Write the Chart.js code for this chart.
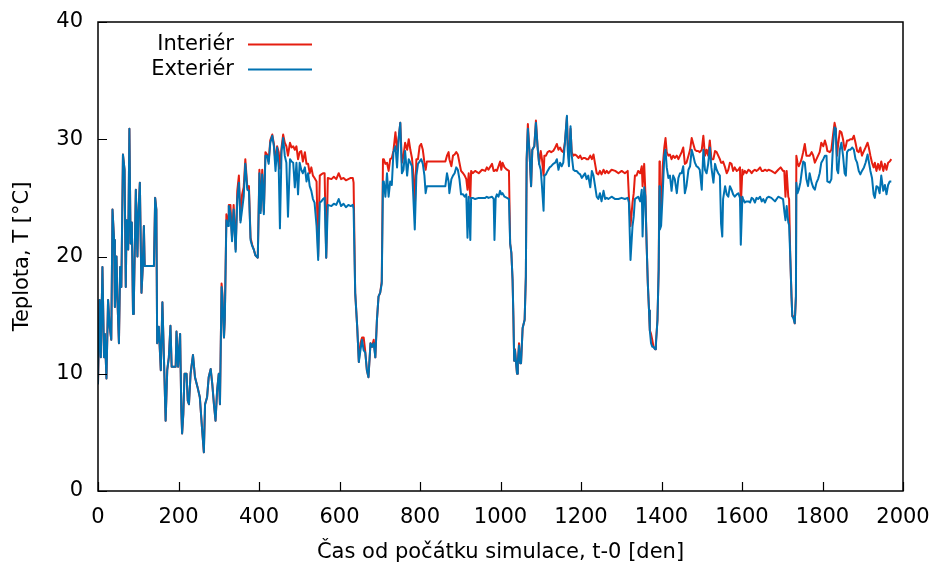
<!DOCTYPE html>
<html>
<head>
<meta charset="utf-8">
<title>Teplota</title>
<script src="https://cdn.jsdelivr.net/npm/chart.js@4/dist/chart.umd.min.js"></script>
<style>
  html, body { margin: 0; padding: 0; background: #fff; }
  #chart { display: block; }
</style>
</head>
<body>
<canvas id="chart" width="933" height="565"></canvas>
<script>
// cas od pocatku simulace [den]
const days = [
  0, 4, 7, 11, 15, 17, 21, 25, 29, 33, 36, 40, 42, 46, 48, 52, 55, 58, 62, 66,
  69, 71, 75, 78, 81, 84, 87, 89, 94, 98, 100, 104, 108, 111, 114, 116, 139, 142, 145, 147,
  151, 156, 160, 164, 168, 172, 176, 180, 183, 193, 195, 199, 204, 207, 209, 212, 215, 220, 223, 226,
  230, 236, 241, 247, 253, 259, 263, 266, 271, 275, 280, 284, 288, 292, 296, 300, 303, 307, 309, 313,
  315, 319, 323, 325, 329, 333, 337, 342, 346, 350, 354, 358, 362, 366, 371, 375, 379, 383, 387, 391,
  397, 401, 404, 408, 412, 416, 420, 424, 428, 433, 437, 441, 445, 449, 452, 456, 460, 464, 468, 472,
  477, 481, 485, 489, 493, 497, 501, 505, 509, 514, 518, 522, 526, 530, 534, 538, 543, 547, 551, 555,
  559, 563, 567, 571, 580, 586, 592, 598, 604, 610, 616, 622, 628, 633, 635, 639, 644, 648, 652, 656,
  660, 664, 668, 672, 677, 681, 685, 689, 693, 697, 701, 705, 708, 710, 714, 718, 722, 726, 730, 734,
  739, 743, 747, 751, 755, 759, 763, 768, 772, 776, 780, 784, 787, 791, 795, 799, 803, 807, 811, 814,
  817, 863, 867, 871, 873, 878, 882, 886, 890, 894, 898, 902, 907, 911, 915, 918, 921, 925, 927, 931,
  937, 946, 954, 962, 966, 970, 979, 983, 985, 988, 991, 995, 999, 1002, 1005, 1010, 1016, 1021, 1024, 1027,
  1030, 1032, 1034, 1036, 1041, 1043, 1046, 1049, 1051, 1055, 1060, 1063, 1065, 1068, 1072, 1076, 1079, 1084, 1088, 1092,
  1096, 1100, 1103, 1107, 1109, 1113, 1117, 1122, 1126, 1131, 1136, 1140, 1144, 1148, 1152, 1156, 1160, 1165, 1167, 1170,
  1174, 1177, 1181, 1185, 1189, 1194, 1198, 1202, 1206, 1210, 1214, 1218, 1223, 1227, 1231, 1235, 1239, 1243, 1247, 1251,
  1256, 1260, 1264, 1268, 1276, 1285, 1293, 1301, 1309, 1316, 1319, 1323, 1328, 1331, 1334, 1338, 1342, 1347, 1351, 1353,
  1357, 1360, 1363, 1366, 1369, 1371, 1374, 1377, 1380, 1384, 1386, 1390, 1393, 1395, 1396, 1399, 1403, 1407, 1410, 1413,
  1417, 1421, 1425, 1429, 1433, 1438, 1442, 1446, 1450, 1454, 1458, 1462, 1467, 1471, 1475, 1479, 1483, 1487, 1491, 1495,
  1500, 1504, 1508, 1512, 1516, 1520, 1524, 1529, 1533, 1537, 1541, 1545, 1548, 1551, 1553, 1558, 1562, 1566, 1570, 1574,
  1578, 1582, 1587, 1591, 1595, 1597, 1601, 1603, 1607, 1611, 1616, 1620, 1624, 1628, 1632, 1636, 1640, 1645, 1649, 1653,
  1657, 1662, 1666, 1673, 1682, 1690, 1696, 1702, 1705, 1708, 1711, 1715, 1717, 1720, 1723, 1725, 1728, 1731, 1734, 1735,
  1738, 1741, 1745, 1748, 1752, 1756, 1760, 1764, 1768, 1773, 1777, 1781, 1785, 1789, 1793, 1797, 1802, 1806, 1810, 1812,
  1818, 1822, 1826, 1830, 1833, 1836, 1839, 1843, 1847, 1851, 1855, 1858, 1861, 1865, 1869, 1874, 1878, 1882, 1886, 1890,
  1894, 1898, 1903, 1907, 1912, 1915, 1919, 1923, 1927, 1930, 1934, 1938, 1942, 1946, 1951, 1955, 1959, 1963, 1967, 1971
];

// teplota v interieru [°C]
const interior = [
  9.1, 16.3, 11.4, 19.1, 11.4, 13.4, 9.6, 16.3, 14.0, 12.9, 24.0, 21.4, 15.7, 20.0, 16.6, 12.6, 19.1, 17.4, 28.7, 27.4,
  17.4, 23.1, 20.6, 30.9, 21.1, 22.9, 15.1, 16.0, 25.7, 20.0, 23.4, 26.3, 16.9, 18.9, 22.6, 19.2, 19.2, 25.0, 24.0, 12.6,
  14.0, 10.3, 16.1, 11.1, 6.0, 10.3, 11.4, 14.1, 10.6, 10.6, 13.6, 10.6, 13.4, 6.9, 4.9, 6.6, 10.0, 10.0, 7.7, 7.4,
  10.0, 11.6, 9.7, 8.9, 8.0, 5.1, 3.3, 7.4, 8.0, 9.7, 10.4, 9.1, 7.4, 6.0, 8.6, 10.0, 7.4, 17.7, 16.9, 13.1,
  14.6, 23.6, 23.0, 24.4, 24.4, 21.6, 24.4, 20.6, 25.6, 26.9, 23.1, 25.3, 25.9, 28.3, 25.9, 26.0, 21.6, 21.0, 20.6, 20.1,
  19.9, 27.4, 23.9, 27.4, 23.8, 28.9, 28.7, 28.1, 29.9, 30.4, 29.6, 28.0, 29.4, 28.9, 27.5, 29.3, 30.4, 29.7, 29.4, 28.6,
  29.7, 29.3, 29.4, 29.1, 29.4, 28.3, 28.9, 29.0, 28.1, 28.9, 27.9, 27.9, 27.1, 27.6, 26.9, 26.7, 26.4, 20.0, 26.9, 27.0,
  27.1, 27.1, 19.9, 26.7, 26.6, 26.8, 26.6, 27.1, 26.6, 26.7, 26.5, 26.6, 26.7, 26.7, 26.3, 16.9, 14.0, 11.0, 12.6, 13.1,
  13.1, 11.9, 10.3, 9.7, 12.6, 12.3, 12.9, 11.4, 14.6, 16.6, 16.9, 17.9, 28.3, 28.3, 27.9, 28.0, 27.3, 28.3, 28.4, 29.0,
  30.6, 29.1, 30.1, 31.4, 28.0, 28.6, 29.7, 29.1, 30.0, 29.1, 28.4, 26.9, 24.0, 28.3, 28.3, 29.4, 29.6, 29.1, 28.0, 27.4,
  28.1, 28.1, 28.6, 28.9, 28.3, 27.7, 28.6, 28.7, 28.9, 28.7, 28.0, 27.3, 27.1, 26.9, 26.6, 25.7, 27.1, 25.0, 27.3, 27.1,
  27.3, 27.1, 27.4, 27.3, 27.6, 27.4, 27.9, 27.3, 27.3, 27.4, 27.3, 27.7, 28.1, 27.4, 28.0, 27.6, 27.4, 27.3, 21.1, 20.3,
  18.0, 14.9, 11.1, 12.1, 10.0, 10.9, 12.6, 10.9, 10.9, 13.9, 14.6, 18.3, 28.3, 31.3, 28.9, 26.0, 29.1, 29.4, 31.6, 29.4,
  27.9, 29.0, 28.3, 26.9, 28.6, 28.6, 28.9, 29.0, 28.9, 29.0, 29.3, 29.6, 29.1, 29.3, 29.0, 28.9, 29.7, 31.9, 29.7, 28.3,
  30.9, 28.9, 28.6, 28.7, 28.6, 28.4, 28.6, 28.3, 28.4, 28.4, 28.3, 28.3, 28.6, 28.3, 28.7, 27.9, 27.1, 27.0, 27.3, 27.0,
  27.4, 27.1, 27.3, 27.1, 27.4, 27.3, 27.1, 27.3, 27.1, 27.3, 25.1, 22.6, 24.6, 25.4, 26.9, 26.9, 27.3, 27.1, 27.7, 26.0,
  27.9, 25.4, 21.1, 17.7, 15.4, 13.7, 13.4, 12.9, 12.3, 12.1, 12.6, 14.6, 18.9, 28.1, 25.4, 24.0, 27.7, 29.3, 30.1, 28.9,
  28.6, 28.7, 28.3, 28.6, 28.4, 28.6, 28.3, 28.6, 28.9, 29.3, 27.9, 28.0, 28.6, 29.1, 30.1, 29.6, 29.1, 29.0, 29.0, 28.9,
  29.1, 30.3, 28.6, 29.1, 28.6, 29.9, 28.3, 28.3, 29.0, 28.9, 28.6, 28.3, 28.0, 28.0, 28.1, 27.6, 27.1, 27.4, 28.0, 27.9,
  27.3, 27.6, 27.3, 27.4, 27.6, 24.3, 27.4, 27.0, 27.3, 27.1, 27.4, 27.3, 27.1, 27.3, 27.4, 27.3, 27.4, 27.6, 27.3, 27.3,
  27.4, 27.3, 27.4, 27.3, 27.1, 27.4, 27.6, 27.3, 27.3, 25.1, 27.3, 25.1, 24.9, 19.9, 16.6, 14.9, 14.9, 14.3, 16.6, 28.6,
  28.0, 27.7, 28.0, 28.3, 28.9, 29.6, 28.6, 28.6, 28.6, 28.9, 28.6, 28.0, 28.3, 28.6, 28.9, 29.7, 29.4, 29.9, 29.4, 29.0,
  28.9, 29.1, 30.3, 31.4, 30.9, 28.6, 29.6, 30.7, 30.6, 30.0, 29.1, 29.4, 29.9, 29.9, 30.0, 30.0, 30.3, 29.7, 29.0, 28.9,
  29.3, 28.6, 29.0, 29.3, 29.7, 29.3, 28.6, 28.0, 27.6, 28.0, 27.3, 27.9, 27.4, 28.1, 27.3, 27.9, 27.4, 28.0, 28.1, 28.3
];

// teplota v exterieru [°C]
const exterior = [
  9.1, 16.3, 11.4, 19.1, 11.4, 13.4, 9.6, 16.3, 14.0, 12.9, 24.0, 21.4, 15.7, 20.0, 16.6, 12.6, 19.1, 17.4, 28.7, 27.4,
  17.4, 23.1, 20.6, 30.9, 21.1, 22.9, 15.1, 16.0, 25.7, 20.0, 23.4, 26.3, 16.9, 18.9, 22.6, 19.2, 19.2, 25.0, 24.0, 12.6,
  14.0, 10.3, 16.1, 11.1, 6.0, 10.3, 11.4, 14.1, 10.6, 10.6, 13.6, 10.6, 13.4, 6.9, 4.9, 6.6, 10.0, 10.0, 7.7, 7.4,
  10.0, 11.6, 9.7, 8.9, 8.0, 5.1, 3.3, 7.4, 8.0, 9.7, 10.4, 9.1, 7.4, 6.0, 8.6, 10.0, 7.4, 17.4, 16.6, 13.1,
  14.6, 23.1, 22.6, 24.3, 23.7, 21.3, 24.0, 20.4, 24.9, 26.3, 22.9, 24.0, 25.1, 27.9, 25.7, 25.6, 21.4, 20.9, 20.6, 20.1,
  19.9, 27.1, 23.7, 27.0, 23.6, 28.6, 28.6, 27.9, 29.7, 30.3, 29.4, 27.3, 29.3, 27.6, 22.4, 29.0, 30.1, 28.6, 28.0, 23.4,
  28.3, 28.1, 28.0, 25.9, 28.0, 25.3, 28.0, 27.4, 27.1, 27.6, 26.4, 27.1, 26.0, 25.6, 24.9, 24.6, 22.6, 19.7, 24.6, 24.7,
  24.9, 25.0, 19.9, 24.4, 24.3, 24.5, 24.4, 24.9, 24.3, 24.5, 24.2, 24.4, 24.3, 24.4, 24.1, 16.9, 14.0, 11.0, 12.0, 12.9,
  12.0, 11.8, 10.3, 9.7, 12.6, 12.3, 12.6, 11.4, 14.6, 16.6, 16.9, 17.7, 26.4, 26.4, 25.1, 27.1, 25.1, 26.4, 26.1, 28.9,
  29.4, 27.6, 30.1, 31.4, 27.1, 27.4, 29.0, 26.9, 28.3, 28.0, 27.7, 24.6, 22.3, 26.9, 27.9, 28.1, 28.3, 27.9, 26.9, 25.4,
  26.0, 26.0, 27.1, 26.4, 25.4, 26.6, 26.9, 27.1, 27.6, 27.4, 26.6, 25.3, 25.3, 25.1, 25.3, 21.6, 25.1, 21.4, 25.0, 25.0,
  24.9, 25.0, 25.0, 25.0, 25.1, 25.0, 25.1, 24.9, 21.4, 25.0, 25.3, 25.1, 25.6, 25.3, 25.4, 25.1, 25.0, 24.9, 21.1, 20.3,
  18.0, 14.9, 11.1, 12.0, 10.0, 10.9, 12.4, 10.9, 10.9, 13.9, 14.6, 18.3, 28.3, 30.9, 28.9, 26.0, 29.1, 29.4, 31.4, 29.4,
  27.9, 27.4, 26.0, 23.9, 26.9, 27.0, 27.3, 27.6, 27.7, 27.9, 28.0, 28.3, 27.4, 28.0, 27.7, 28.0, 29.7, 32.0, 29.1, 27.7,
  31.1, 28.6, 27.4, 27.3, 27.3, 27.1, 27.0, 26.7, 26.9, 27.1, 26.6, 26.9, 25.9, 27.3, 26.9, 26.0, 25.1, 24.9, 25.4, 24.7,
  25.6, 24.9, 25.0, 24.9, 25.1, 24.9, 24.9, 25.0, 24.9, 25.0, 24.6, 19.7, 22.6, 23.4, 24.9, 25.0, 25.1, 24.7, 25.7, 21.7,
  25.9, 25.1, 21.1, 17.7, 15.4, 13.7, 12.6, 12.3, 12.3, 12.1, 12.4, 14.6, 18.9, 26.0, 22.3, 22.6, 25.4, 28.6, 29.1, 27.6,
  26.7, 26.9, 25.6, 26.9, 26.6, 25.4, 26.7, 27.1, 27.1, 27.7, 25.4, 26.0, 27.4, 27.7, 29.1, 28.6, 28.0, 27.7, 27.6, 27.4,
  25.7, 29.1, 27.4, 27.1, 27.9, 29.3, 27.6, 26.3, 27.9, 27.4, 27.1, 26.9, 22.8, 21.7, 24.9, 26.0, 25.3, 25.1, 26.0, 25.7,
  25.3, 25.1, 25.3, 25.4, 25.0, 21.0, 25.1, 24.9, 24.6, 24.7, 24.7, 24.6, 25.0, 24.9, 24.6, 25.0, 24.9, 25.1, 24.7, 24.9,
  24.6, 25.0, 25.1, 25.0, 24.7, 25.1, 25.0, 24.9, 23.9, 23.1, 24.3, 22.9, 22.7, 19.9, 16.6, 14.9, 14.7, 14.3, 16.6, 26.3,
  25.4, 25.7, 26.3, 27.1, 28.1, 28.0, 26.6, 26.0, 27.1, 26.3, 25.9, 25.7, 26.3, 26.6, 27.1, 28.0, 28.3, 28.6, 28.6, 26.4,
  26.3, 26.6, 29.4, 31.0, 30.9, 27.4, 27.1, 29.1, 29.7, 28.6, 27.1, 26.9, 28.9, 29.1, 29.1, 29.3, 29.1, 28.3, 28.0, 27.3,
  27.0, 27.3, 27.6, 28.0, 28.7, 28.1, 27.3, 26.7, 25.3, 25.0, 26.0, 25.9, 25.4, 26.9, 25.6, 26.1, 25.3, 26.1, 26.4, 26.4
];

const seriesNames = ['Interiér', 'Exteriér'];
const seriesColors = ['#e51e10', '#0072b2'];
const xTitle = 'Čas od počátku simulace, t-0 [den]';
const yTitle = 'Teplota, T [°C]';

const FONT = '"DejaVu Sans", "Liberation Sans", sans-serif';
Chart.defaults.font.family = FONT;
Chart.defaults.font.size = 21;
Chart.defaults.color = '#000';

const toPoints = vals => days.map((d, i) => ({ x: d, y: vals[i] }));

// keep the plot box fixed: no extra room reserved for overhanging tick labels
function noLabelPadding(scale) {
  scale.paddingTop = 0;
  scale.paddingBottom = 0;
  scale.paddingLeft = 0;
  scale.paddingRight = 0;
}

// gnuplot-like frame: border, inward ticks, key and axis labels
const framePlugin = {
  id: 'frame',
  afterDraw(chart) {
    const { ctx, chartArea: a, scales } = chart;
    ctx.save();

    ctx.strokeStyle = '#000';
    ctx.lineWidth = 1.5;
    ctx.strokeRect(a.left, a.top, a.right - a.left, a.bottom - a.top);

    ctx.lineWidth = 1.2;
    ctx.beginPath();
    scales.x.ticks.forEach(t => {
      const px = Math.round(scales.x.getPixelForValue(t.value)) + 0.5;
      ctx.moveTo(px, a.bottom);
      ctx.lineTo(px, a.bottom - 9);
    });
    scales.y.ticks.forEach(t => {
      const py = Math.round(scales.y.getPixelForValue(t.value)) + 0.5;
      ctx.moveTo(a.left, py);
      ctx.lineTo(a.left + 9, py);
    });
    ctx.stroke();

    // key
    ctx.font = '21px ' + FONT;
    ctx.fillStyle = '#000';
    ctx.textAlign = 'right';
    ctx.textBaseline = 'middle';
    seriesNames.forEach((name, i) => {
      const y = 45 + i * 25;
      ctx.fillText(name, 234, y);
      ctx.strokeStyle = seriesColors[i];
      ctx.lineWidth = 2;
      ctx.beginPath();
      ctx.moveTo(248, y - 0.5);
      ctx.lineTo(312, y - 0.5);
      ctx.stroke();
    });

    // axis titles
    ctx.textAlign = 'center';
    ctx.fillText(xTitle, (a.left + a.right) / 2, 553);
    ctx.translate(23, (a.top + a.bottom) / 2);
    ctx.rotate(-Math.PI / 2);
    ctx.fillText(yTitle, 0, 0);

    ctx.restore();
  }
};

new Chart(document.getElementById('chart'), {
  type: 'line',
  data: {
    datasets: [
      {
        label: seriesNames[0],
        data: toPoints(interior),
        borderColor: seriesColors[0],
        borderWidth: 2,
        order: 2
      },
      {
        label: seriesNames[1],
        data: toPoints(exterior),
        borderColor: seriesColors[1],
        borderWidth: 2,
        order: 1
      }
    ]
  },
  options: {
    responsive: false,
    animation: false,
    devicePixelRatio: 1,
    elements: { point: { radius: 0 }, line: { tension: 0, borderJoinStyle: 'round' } },
    layout: { padding: { top: 22, right: 30, left: 0, bottom: 0 } },
    plugins: { legend: { display: false }, tooltip: { enabled: false } },
    scales: {
      x: {
        type: 'linear',
        min: 0,
        max: 2000,
        grid: { display: false, drawTicks: false },
        border: { display: false },
        ticks: { stepSize: 200, padding: 14, maxRotation: 0, autoSkip: false, callback: v => String(v) },
        afterFit(scale) { scale.height = 74; noLabelPadding(scale); }
      },
      y: {
        min: 0,
        max: 40,
        grid: { display: false, drawTicks: false },
        border: { display: false },
        ticks: { stepSize: 10, padding: 15, callback: v => String(v) },
        afterFit(scale) { scale.width = 98; noLabelPadding(scale); }
      }
    }
  },
  plugins: [framePlugin]
});
</script>
</body>
</html>
